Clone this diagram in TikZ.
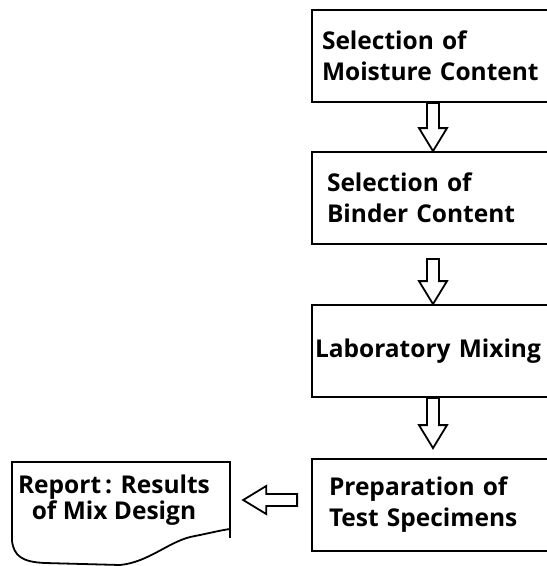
\documentclass[tikz,border=0pt]{standalone}
\usepackage{fontspec}
\setmainfont{Open Sans}
\usepackage{tikz}
\usetikzlibrary{calc,positioning}

\begin{document}
\begin{tikzpicture}[
    x=1pt, y=-1pt,
    stage/.style={rectangle, draw, line width=1.8pt, minimum width=242pt, minimum height=92pt,
        align=left, font=\fontsize{24.5}{31}\selectfont\bfseries},
    hollow/.style={draw, line width=1.8pt, fill=white, line join=miter, to path={
        ($(\tikztostart)!6pt!90:(\tikztotarget)$)
        -- ($(\tikztotarget)!23pt!(\tikztostart)!6pt!-90:(\tikztostart)$)
        -- ($(\tikztotarget)!23pt!(\tikztostart)!14pt!-90:(\tikztostart)$)
        -- (\tikztotarget)
        -- ($(\tikztotarget)!23pt!(\tikztostart)!14pt!90:(\tikztostart)$)
        -- ($(\tikztotarget)!23pt!(\tikztostart)!6pt!90:(\tikztostart)$)
        -- ($(\tikztostart)!6pt!-90:(\tikztotarget)$) -- cycle}}
]
    \clip (0,0) rectangle (547,566);
    \node[stage, text width=222pt, inner xsep=10pt] (moisture) at (433,56) {Selection of\\Moisture Content};
    \node[stage, text width=212pt, inner xsep=15pt] (binder) at (433,198) {Selection of\\Binder Content};
    \node[stage, text width=236pt, inner xsep=3pt] (mixing) at (433,351) {Laboratory Mixing};
    \node[stage, text width=208pt, inner xsep=17pt] (specimens) at (433,505) {Preparation of\\Test Specimens};
    \node[minimum width=218pt, minimum height=76pt, align=center,
        font=\fontsize{24.5}{25.5}\selectfont\bfseries] (report) at (114,500) {Report\,: Results\\of Mix Design};
    % torn-off report sheet
    \draw[line width=1.8pt] (12,541) -- (12,462) -- (230,462) -- (230,538);
    \draw[line width=1.8pt] (12,541) .. controls (14,556) and (22,562) .. (45,563)
        -- (120,565) .. controls (150,562) and (170,540) .. (195,536)
        .. controls (210,533) and (222,530) .. (230,529);
    \draw[hollow] (moisture.south) to (binder.north);
    \draw[hollow] ([yshift=-14pt]binder.south) to (mixing.north);
    \draw[hollow] (mixing.south) to ([yshift=10pt]specimens.north);
    \draw[hollow] ([xshift=-14pt,yshift=5pt]specimens.west) to ([xshift=20pt]report.east);
\end{tikzpicture}
\end{document}
